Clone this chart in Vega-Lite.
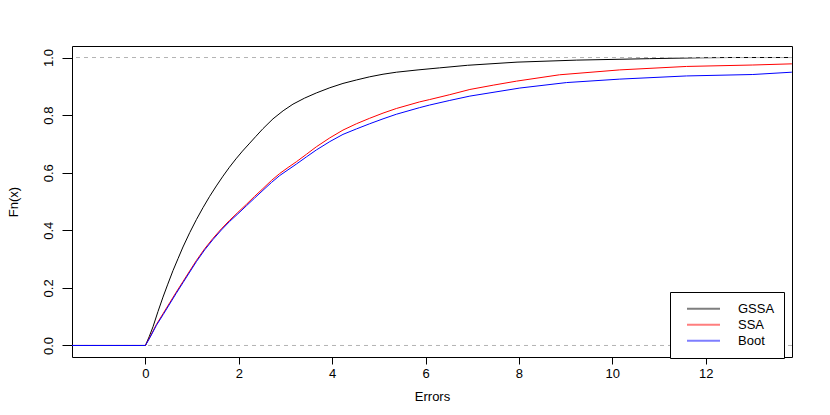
{
  "$schema": "https://vega.github.io/schema/vega-lite/v6.json",
  "width": 720,
  "height": 311,
  "autosize": {"type": "none"},
  "padding": {"left": 72, "top": 46, "right": 38, "bottom": 58},
  "background": "white",
  "config": {
    "view": {"stroke": "black", "strokeWidth": 1},
    "font": "Liberation Sans",
    "axis": {
      "domain": false, "grid": false, "tickColor": "black", "tickWidth": 1,
      "labelColor": "black", "titleColor": "black",
      "labelFont": "Liberation Sans", "titleFont": "Liberation Sans",
      "labelFontSize": 13, "titleFontSize": 13, "titleFontWeight": "normal",
      "labelOverlap": false
    },
    "legend": {
      "orient": "none", "legendX": 598, "legendY": 246,
      "strokeColor": "black", "fillColor": "white", "cornerRadius": 0,
      "padding": 9, "symbolType": "stroke", "symbolSize": 1089,
      "symbolStrokeWidth": 2, "symbolOpacity": 0.5, "symbolOffset": 7, "labelOffset": 17,
      "clipHeight": 15.5, "rowPadding": 0,
      "labelFont": "Liberation Sans", "labelFontSize": 13, "labelColor": "black",
      "title": null
    }
  },
  "datasets": {
    "ecdf": [
      {"series": "GSSA", "x": -1.6, "y": 0},
      {"series": "GSSA", "x": 0, "y": 0},
      {"series": "GSSA", "x": 0.08, "y": 0.03},
      {"series": "GSSA", "x": 0.163, "y": 0.065},
      {"series": "GSSA", "x": 0.27, "y": 0.118},
      {"series": "GSSA", "x": 0.377, "y": 0.168},
      {"series": "GSSA", "x": 0.48, "y": 0.213},
      {"series": "GSSA", "x": 0.591, "y": 0.26},
      {"series": "GSSA", "x": 0.7, "y": 0.302},
      {"series": "GSSA", "x": 0.805, "y": 0.342},
      {"series": "GSSA", "x": 0.95, "y": 0.392},
      {"series": "GSSA", "x": 1.092, "y": 0.437},
      {"series": "GSSA", "x": 1.235, "y": 0.479},
      {"series": "GSSA", "x": 1.377, "y": 0.518},
      {"series": "GSSA", "x": 1.52, "y": 0.554},
      {"series": "GSSA", "x": 1.662, "y": 0.588},
      {"series": "GSSA", "x": 1.8, "y": 0.619},
      {"series": "GSSA", "x": 1.94, "y": 0.648},
      {"series": "GSSA", "x": 2.08, "y": 0.675},
      {"series": "GSSA", "x": 2.22, "y": 0.7},
      {"series": "GSSA", "x": 2.36, "y": 0.725},
      {"series": "GSSA", "x": 2.519, "y": 0.753},
      {"series": "GSSA", "x": 2.733, "y": 0.787},
      {"series": "GSSA", "x": 2.95, "y": 0.815},
      {"series": "GSSA", "x": 3.161, "y": 0.838},
      {"series": "GSSA", "x": 3.41, "y": 0.859},
      {"series": "GSSA", "x": 3.662, "y": 0.877},
      {"series": "GSSA", "x": 3.95, "y": 0.895},
      {"series": "GSSA", "x": 4.232, "y": 0.91},
      {"series": "GSSA", "x": 4.52, "y": 0.922},
      {"series": "GSSA", "x": 4.804, "y": 0.933},
      {"series": "GSSA", "x": 5.09, "y": 0.942},
      {"series": "GSSA", "x": 5.376, "y": 0.949},
      {"series": "GSSA", "x": 5.84, "y": 0.957},
      {"series": "GSSA", "x": 6.3, "y": 0.964},
      {"series": "GSSA", "x": 6.9, "y": 0.973},
      {"series": "GSSA", "x": 7.96, "y": 0.984},
      {"series": "GSSA", "x": 9.24, "y": 0.991},
      {"series": "GSSA", "x": 10.8, "y": 0.996},
      {"series": "GSSA", "x": 11.86, "y": 0.999},
      {"series": "GSSA", "x": 12.5, "y": 1.0},
      {"series": "GSSA", "x": 14, "y": 1.0},
      {"series": "SSA", "x": -1.6, "y": 0},
      {"series": "SSA", "x": 0, "y": 0},
      {"series": "SSA", "x": 0.1, "y": 0.03},
      {"series": "SSA", "x": 0.236, "y": 0.073},
      {"series": "SSA", "x": 0.38, "y": 0.111},
      {"series": "SSA", "x": 0.52, "y": 0.148},
      {"series": "SSA", "x": 0.66, "y": 0.185},
      {"series": "SSA", "x": 0.805, "y": 0.222},
      {"series": "SSA", "x": 0.95, "y": 0.259},
      {"series": "SSA", "x": 1.092, "y": 0.295},
      {"series": "SSA", "x": 1.27, "y": 0.336},
      {"series": "SSA", "x": 1.448, "y": 0.372},
      {"series": "SSA", "x": 1.627, "y": 0.405},
      {"series": "SSA", "x": 1.806, "y": 0.435},
      {"series": "SSA", "x": 1.98, "y": 0.462},
      {"series": "SSA", "x": 2.163, "y": 0.49},
      {"series": "SSA", "x": 2.34, "y": 0.518},
      {"series": "SSA", "x": 2.519, "y": 0.545},
      {"series": "SSA", "x": 2.7, "y": 0.573},
      {"series": "SSA", "x": 2.876, "y": 0.597},
      {"series": "SSA", "x": 3.055, "y": 0.618},
      {"series": "SSA", "x": 3.234, "y": 0.638},
      {"series": "SSA", "x": 3.45, "y": 0.664},
      {"series": "SSA", "x": 3.662, "y": 0.69},
      {"series": "SSA", "x": 3.95, "y": 0.721},
      {"series": "SSA", "x": 4.232, "y": 0.748},
      {"series": "SSA", "x": 4.52, "y": 0.77},
      {"series": "SSA", "x": 4.804, "y": 0.789},
      {"series": "SSA", "x": 5.09, "y": 0.807},
      {"series": "SSA", "x": 5.376, "y": 0.823},
      {"series": "SSA", "x": 5.875, "y": 0.846},
      {"series": "SSA", "x": 6.089, "y": 0.854},
      {"series": "SSA", "x": 6.52, "y": 0.871},
      {"series": "SSA", "x": 6.95, "y": 0.889},
      {"series": "SSA", "x": 7.45, "y": 0.904},
      {"series": "SSA", "x": 7.95, "y": 0.918},
      {"series": "SSA", "x": 8.87, "y": 0.94},
      {"series": "SSA", "x": 10.16, "y": 0.957},
      {"series": "SSA", "x": 11.59, "y": 0.969},
      {"series": "SSA", "x": 13.01, "y": 0.974},
      {"series": "SSA", "x": 13.84, "y": 0.978},
      {"series": "SSA", "x": 14, "y": 0.978},
      {"series": "Boot", "x": -1.6, "y": 0},
      {"series": "Boot", "x": 0, "y": 0},
      {"series": "Boot", "x": 0.1, "y": 0.028},
      {"series": "Boot", "x": 0.236, "y": 0.07},
      {"series": "Boot", "x": 0.38, "y": 0.107},
      {"series": "Boot", "x": 0.52, "y": 0.144},
      {"series": "Boot", "x": 0.66, "y": 0.181},
      {"series": "Boot", "x": 0.805, "y": 0.218},
      {"series": "Boot", "x": 0.95, "y": 0.255},
      {"series": "Boot", "x": 1.092, "y": 0.291},
      {"series": "Boot", "x": 1.27, "y": 0.332},
      {"series": "Boot", "x": 1.448, "y": 0.368},
      {"series": "Boot", "x": 1.627, "y": 0.401},
      {"series": "Boot", "x": 1.806, "y": 0.431},
      {"series": "Boot", "x": 1.98, "y": 0.457},
      {"series": "Boot", "x": 2.163, "y": 0.485},
      {"series": "Boot", "x": 2.34, "y": 0.512},
      {"series": "Boot", "x": 2.519, "y": 0.539},
      {"series": "Boot", "x": 2.7, "y": 0.566},
      {"series": "Boot", "x": 2.876, "y": 0.59},
      {"series": "Boot", "x": 3.055, "y": 0.61},
      {"series": "Boot", "x": 3.234, "y": 0.63},
      {"series": "Boot", "x": 3.45, "y": 0.655},
      {"series": "Boot", "x": 3.662, "y": 0.679},
      {"series": "Boot", "x": 3.95, "y": 0.708},
      {"series": "Boot", "x": 4.232, "y": 0.733},
      {"series": "Boot", "x": 4.52, "y": 0.752},
      {"series": "Boot", "x": 4.804, "y": 0.77},
      {"series": "Boot", "x": 5.09, "y": 0.787},
      {"series": "Boot", "x": 5.376, "y": 0.803},
      {"series": "Boot", "x": 5.875, "y": 0.826},
      {"series": "Boot", "x": 6.089, "y": 0.835},
      {"series": "Boot", "x": 6.52, "y": 0.851},
      {"series": "Boot", "x": 6.95, "y": 0.866},
      {"series": "Boot", "x": 8.02, "y": 0.894},
      {"series": "Boot", "x": 9.02, "y": 0.913},
      {"series": "Boot", "x": 10.16, "y": 0.925},
      {"series": "Boot", "x": 11.59, "y": 0.936},
      {"series": "Boot", "x": 13.01, "y": 0.941},
      {"series": "Boot", "x": 13.84, "y": 0.949},
      {"series": "Boot", "x": 14, "y": 0.95}
    ],
    "reflines": [{"y": 0}, {"y": 1}]
  },
  "encoding": {
    "x": {
      "field": "x", "type": "quantitative",
      "scale": {"domain": [-1.572, 13.85], "nice": false, "zero": false},
      "axis": {
        "title": "Errors", "values": [0, 2, 4, 6, 8, 10, 12],
        "tickSize": 7, "labelPadding": 3, "labelFlush": false,
        "titleY": 43, "titleBaseline": "alphabetic"
      }
    },
    "y": {
      "field": "y", "type": "quantitative",
      "scale": {"domain": [-0.04, 1.04], "nice": false, "zero": false},
      "axis": {
        "title": "Fn(x)", "values": [0, 0.2, 0.4, 0.6, 0.8, 1.0], "format": ".1f",
        "tickSize": 10, "labelAngle": -90, "labelAlign": "center",
        "labelBaseline": "alphabetic", "labelPadding": 10,
        "titleX": -55, "titleBaseline": "alphabetic", "titleAngle": -90
      }
    }
  },
  "layer": [
    {
      "data": {"name": "ecdf"},
      "transform": [{"filter": "datum.series === 'GSSA'"}],
      "mark": {"type": "line", "clip": true, "strokeWidth": 1},
      "encoding": {
        "color": {
          "field": "series", "type": "nominal",
          "scale": {"domain": ["GSSA", "SSA", "Boot"], "range": ["#000000", "#FF0000", "#0000FF"]},
          "legend": {"labelExpr": "datum.label + '\u00a0\u00a0\u00a0'"}
        }
      }
    },
    {
      "data": {"name": "reflines"},
      "mark": {"type": "rule", "color": "#b3b3b3", "strokeDash": [4, 4], "strokeWidth": 1},
      "encoding": {"y": {"field": "y", "type": "quantitative"}, "x": null}
    },
    {
      "data": {"name": "ecdf"},
      "transform": [{"filter": "datum.series === 'SSA'"}],
      "mark": {"type": "line", "clip": true, "strokeWidth": 1},
      "encoding": {
        "color": {"field": "series", "type": "nominal"}
      }
    },
    {
      "data": {"name": "ecdf"},
      "transform": [{"filter": "datum.series === 'Boot'"}],
      "mark": {"type": "line", "clip": true, "strokeWidth": 1},
      "encoding": {
        "color": {"field": "series", "type": "nominal"}
      }
    }
  ]
}
